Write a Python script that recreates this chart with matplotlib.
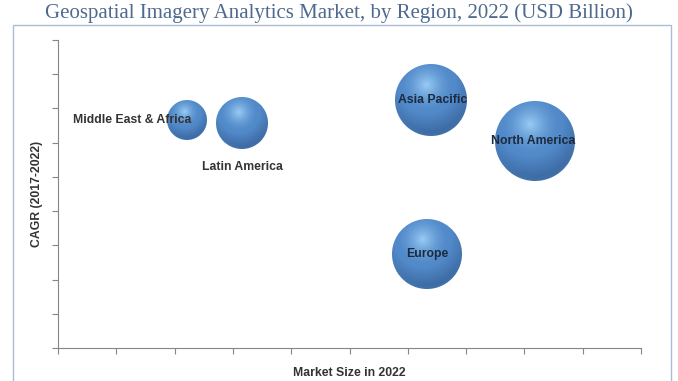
#!/usr/bin/env python
# -*- coding: utf-8 -*-

import numpy as np
import matplotlib
matplotlib.use("Agg")
import matplotlib.pyplot as plt
from matplotlib.patches import Rectangle
from matplotlib.offsetbox import OffsetImage, AnnotationBbox

############################################
# DATA
############################################

regions = ["Middle East & Africa", "Latin America", "Asia Pacific",
           "North America", "Europe"]
market_size = [2.21, 3.16, 6.40, 8.18, 6.33]   # x, arbitrary units
cagr = [6.67, 6.58, 7.25, 6.05, 2.75]          # y, arbitrary units
bubble_radius = [20, 26, 36, 40, 35]           # bubble radius in pixels

x_ticks = list(range(0, 11))
y_ticks = list(range(0, 10))

title = "Geospatial Imagery Analytics Market, by Region, 2022 (USD Billion)"
x_label = "Market Size in 2022"
y_label = "CAGR (2017-2022)"

# label offsets (points) and alignment for each region label
label_style = {
    "Middle East & Africa": dict(xytext=(3.5, 0), ha="right", color="#333333"),
    "Latin America": dict(xytext=(0, -32), ha="center", color="#333333"),
    "Asia Pacific": dict(xytext=(1, 0), ha="center", color="#1c2a3e"),
    "North America": dict(xytext=(-1, 0), ha="center", color="#1c2a3e"),
    "Europe": dict(xytext=(0, 0), ha="center", color="#1c2a3e"),
}


############################################
# HELPERS
############################################

def sphere_image(radius):
    """
    Build an RGBA image of a shaded blue sphere (radial highlight, dark rim).
    """
    n = 2 * radius + 2
    yy, xx = np.mgrid[0:n, 0:n].astype(float)
    c = (n - 1) / 2.0
    u = (xx - c) / radius
    v = (yy - c) / radius
    r = np.sqrt(u ** 2 + v ** 2)

    light = np.array([0.60, 0.80, 0.96])
    base = np.array([0.32, 0.54, 0.79])
    dark = np.array([0.20, 0.36, 0.57])

    # distance from highlight spot (upper-left of center)
    d = np.sqrt((u + 0.12) ** 2 + (v + 0.42) ** 2)
    t1 = np.clip(d / 0.75, 0, 1)[..., None]
    col = light * (1 - t1) ** 1.6 + base * (1 - (1 - t1) ** 1.6)
    # darkening toward the lower rim
    t2 = np.clip((d - 0.8) / 0.8, 0, 1)[..., None]
    col = col * (1 - t2) + dark * t2
    # slight rim reflection at the very bottom edge
    rim = np.clip((r - 0.88) / 0.12, 0, 1) * np.clip(v, 0, 1)
    col = col * (1 - 0.35 * rim[..., None]) + base * 0.35 * rim[..., None]

    alpha = np.clip((1.0 - r) * radius + 0.5, 0, 1)
    img = np.dstack([np.clip(col, 0, 1), alpha])
    return img


############################################
# PLOT
############################################

fig = plt.figure(figsize=(6.78, 3.81), dpi=100)
ax = fig.add_axes([58 / 678, 1 - 348 / 381, (641 - 58) / 678, (348 - 40) / 381])

# outer frame around the chart
fig.patches.append(Rectangle((13 / 678, -0.02), (671 - 13) / 678, 0.02 + 1 - 25 / 381,
                             transform=fig.transFigure, fill=False,
                             edgecolor="#a9bdd3", linewidth=1.0))

fig.text(0.5, 1 - 13 / 381, title, ha="center", va="center",
         fontsize=15, family="Liberation Serif", color="#4e6a8e")

ax.set_xlim(x_ticks[0], x_ticks[-1])
ax.set_ylim(y_ticks[0], y_ticks[-1])
ax.set_xticks(x_ticks)
ax.set_yticks(y_ticks)
ax.set_xticklabels([])
ax.set_yticklabels([])
ax.tick_params(direction="out", length=4, width=0.8, color="#868686")
for side in ["top", "right"]:
    ax.spines[side].set_visible(False)
for side in ["left", "bottom"]:
    ax.spines[side].set_color("#868686")
    ax.spines[side].set_linewidth(0.8)

ax.set_xlabel(x_label, fontsize=8.8, fontweight="bold", color="#333333",
              family="Liberation Sans", labelpad=6)
ax.set_ylabel(y_label, fontsize=8.8, fontweight="bold", color="#333333",
              family="Liberation Sans", labelpad=3)

for name, x, y, rad in zip(regions, market_size, cagr, bubble_radius):
    ab = AnnotationBbox(OffsetImage(sphere_image(rad), dpi_cor=False), (x, y),
                        frameon=False, pad=0, box_alignment=(0.5, 0.5), zorder=3)
    ax.add_artist(ab)

for name, x, y in zip(regions, market_size, cagr):
    st = label_style[name]
    ax.annotate(name, (x, y), xytext=st["xytext"], textcoords="offset points",
                ha=st["ha"], va="center", fontsize=8.8, fontweight="bold",
                color=st["color"], family="Liberation Sans", zorder=5,
                annotation_clip=False)

fig.savefig("out.png", dpi=100)
